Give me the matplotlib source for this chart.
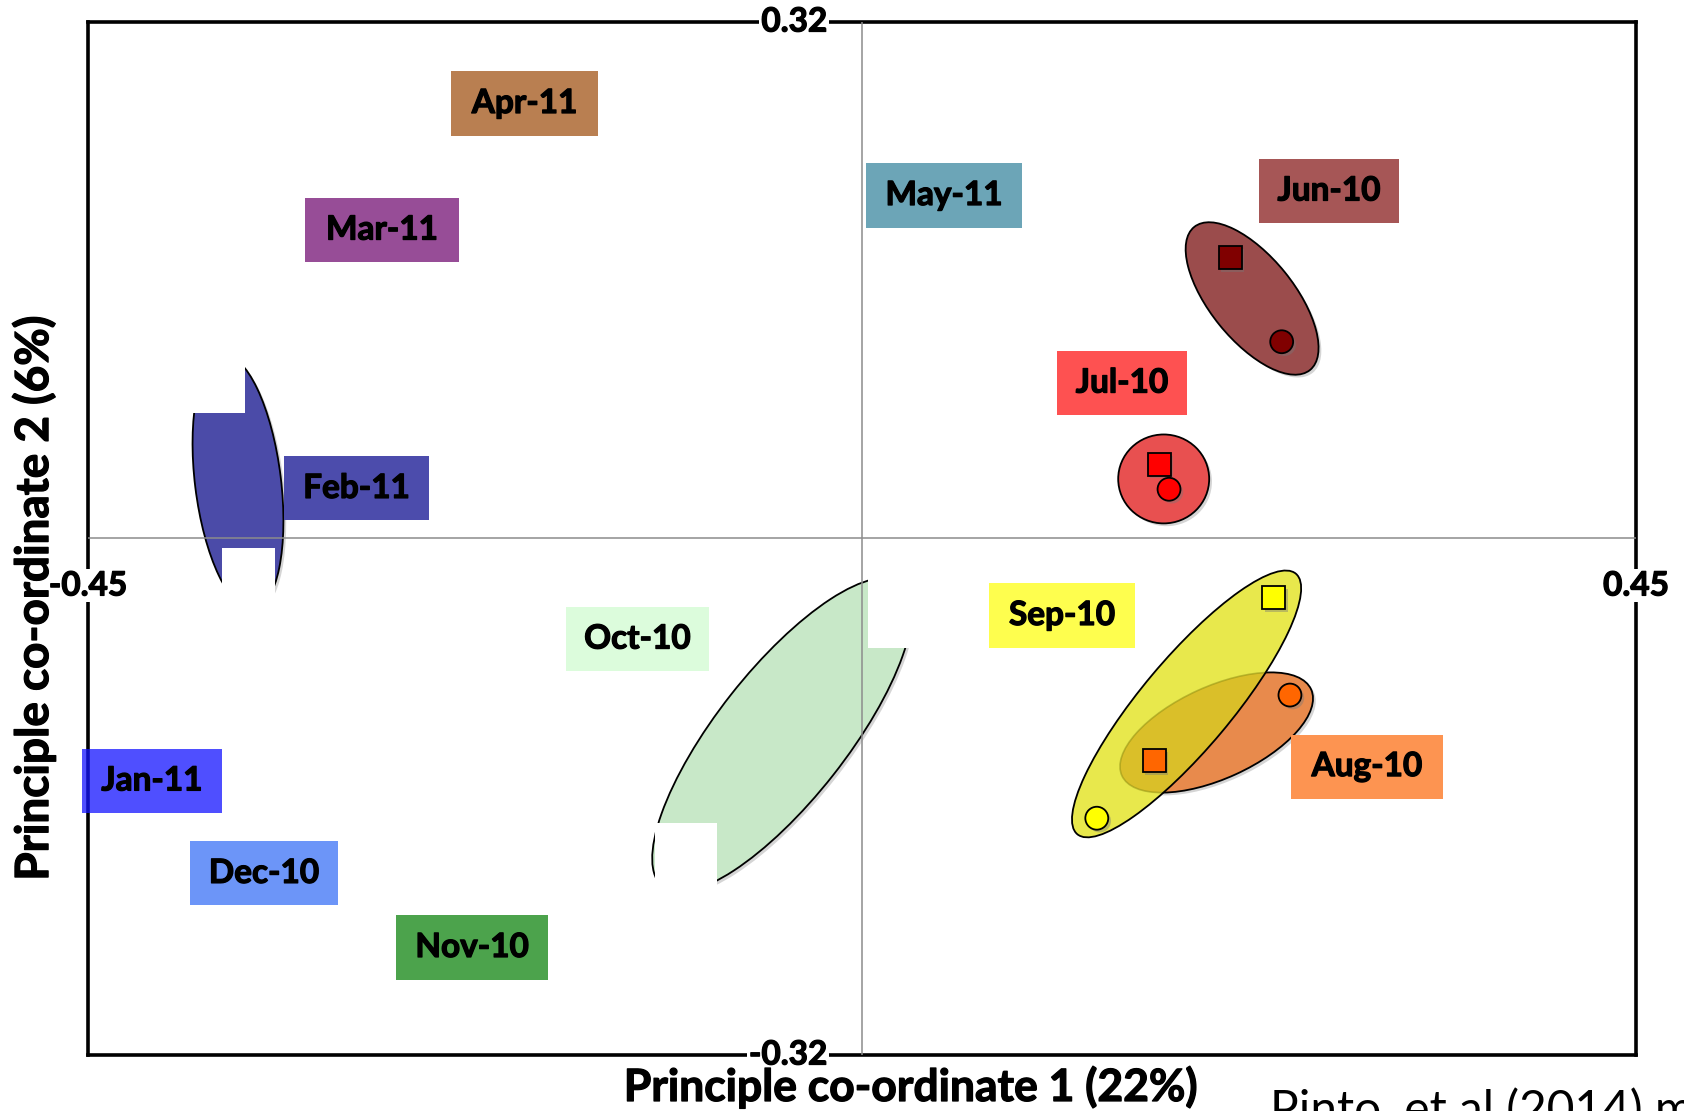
import matplotlib
matplotlib.use("Agg")
import matplotlib.pyplot as plt
from matplotlib.patches import Ellipse, Rectangle
from matplotlib.transforms import Affine2D
import matplotlib.patheffects as pe

plt.rcParams['font.family'] = ['Lato', 'DejaVu Sans']

# ---------------- data ----------------
x_range = (-0.45, 0.45)
y_range = (-0.32, 0.32)
x_tick_labels = ['-0.45', '0.45']
y_tick_labels = ['-0.32', '0.32']
x_title = 'Principle co-ordinate 1 (22%)'
y_title = 'Principle co-ordinate 2 (6%)'
credit = 'Pinto, et al (2014) mBio'

# month labels (box centre, box size in data units, colour)
label_names = ['Apr-11', 'Mar-11', 'May-11', 'Jun-10', 'Jul-10', 'Feb-11',
               'Sep-10', 'Oct-10', 'Aug-10', 'Jan-11', 'Dec-10', 'Nov-10']
label_x = [-0.1962, -0.2791, 0.0477, 0.2715, 0.1512, -0.2939,
           0.1163, -0.1305, 0.2936, -0.4128, -0.3477, -0.2267]
label_y = [0.2695, 0.1911, 0.2125, 0.2153, 0.0963, 0.0310,
           -0.0477, -0.0623, -0.1413, -0.1502, -0.2075, -0.2534]
label_w = [0.0855, 0.0895, 0.0907, 0.0814, 0.0756, 0.0843,
           0.0849, 0.0831, 0.0884, 0.0814, 0.0860, 0.0884]
label_h = 0.0397
label_colors = ['#b97f51', '#974d97', '#6ca5b7', '#a65656', '#fe5151', '#4c4cac',
                '#fefe4e', '#dcfcdc', '#fd9451', '#1414ff', '#6c95f8', '#4ca34c']
label_alpha = [1, 1, 1, 1, 1, 1, 1, 1, 1, 0.75, 1, 1]

# group ellipses (centre in data, axes lengths in x-units, angle in degrees)
ell_names = ['Feb-11', 'Oct-10', 'Jun-10', 'Jul-10', 'Aug-10', 'Sep-10']
ell_cx = [-0.3628, -0.0465, 0.2268, 0.1754, 0.2061, 0.1887]
ell_cy = [0.0350, -0.1217, 0.1487, 0.0369, -0.1202, -0.1025]
ell_w = [0.1488, 0.2244, 0.1070, 0.0529, 0.1209, 0.1977]
ell_h = [0.0500, 0.0756, 0.0488, 0.0517, 0.0535, 0.0523]
ell_angle = [97, 51.8, -51, 0, 24.5, 50]
ell_colors = ['#4b4ba8', '#c8e8c8', '#9b4c4c', '#e85050', '#e88a4c', '#e8e84c']

# sample points
pt_month = ['Jun-10', 'Jun-10', 'Jul-10', 'Jul-10', 'Aug-10', 'Aug-10', 'Sep-10', 'Sep-10']
pt_x = [0.2140, 0.2440, 0.1727, 0.1785, 0.1698, 0.2488, 0.2395, 0.1365]
pt_y = [0.1741, 0.1219, 0.0460, 0.0305, -0.1377, -0.0970, -0.0367, -0.1733]
pt_marker = ['s', 'o', 's', 'o', 's', 'o', 's', 'o']
pt_colors = ['#800000', '#800000', '#ff0000', '#ff0000', '#ff6600', '#ff6600', '#ffff00', '#ffff00']

# white patches covering parts of the picture (x0, x1, y0, y1)
mask_x0 = [-0.3960, -0.3723, 0.0035, -0.1203]
mask_x1 = [-0.3587, -0.3413, 0.0337, -0.0843]
mask_y0 = [0.0778, -0.0474, -0.0678, -0.2240]
mask_y1 = [0.1300, -0.0059, -0.0133, -0.1763]

# ---------------- figure ----------------
fig = plt.figure(figsize=(16.84, 11.11), dpi=100)
ax = fig.add_axes([0.05226, 0.05041, 0.91924, 0.92979])
ax.set_xlim(*x_range)
ax.set_ylim(*y_range)
ax.set_xticks([])
ax.set_yticks([])
for s in ax.spines.values():
    s.set_linewidth(2.6)
    s.set_color('black')
    s.set_zorder(2.8)

# isotropic transform for ellipses
ax_w_px = 0.91924 * 16.84 * 100
ax_h_px = 0.92979 * 11.11 * 100
kx = ax_w_px / (x_range[1] - x_range[0])
ky = ax_h_px / (y_range[1] - y_range[0])
iso = Affine2D().scale(1, kx / ky) + ax.transData

shadow = [pe.SimplePatchShadow(offset=(2, -2), shadow_rgbFace='#888888', alpha=0.35), pe.Normal()]
heavy = [pe.withStroke(linewidth=0.9, foreground='black')]

ell_patches = {}
for name, cx, cy, w, h, a, c in zip(ell_names, ell_cx, ell_cy, ell_w, ell_h, ell_angle, ell_colors):
    if name == 'Sep-10':
        e = Ellipse((cx, cy * ky / kx), w, h, angle=a, transform=iso,
                    facecolor=c, edgecolor='none', zorder=2.1)
    else:
        e = Ellipse((cx, cy * ky / kx), w, h, angle=a, transform=iso,
                    facecolor=c, edgecolor='black', linewidth=1.3, zorder=2,
                    path_effects=shadow)
    ax.add_patch(e)
    ell_patches[name] = e

# overlap of Aug-10 and Sep-10 groups
i_aug = ell_names.index('Aug-10')
i_sep = ell_names.index('Sep-10')
ov = Ellipse((ell_cx[i_aug], ell_cy[i_aug] * ky / kx), ell_w[i_aug], ell_h[i_aug],
             angle=ell_angle[i_aug], transform=iso, facecolor='#ce9808', alpha=0.5,
             edgecolor='#8a8a10', linewidth=1.2, zorder=2.2)
ax.add_patch(ov)
ov.set_clip_path(ell_patches['Sep-10'])
sep_edge = Ellipse((ell_cx[i_sep], ell_cy[i_sep] * ky / kx), ell_w[i_sep], ell_h[i_sep],
                   angle=ell_angle[i_sep], transform=iso, facecolor='none',
                   edgecolor='black', linewidth=1.3, zorder=2.3)
ax.add_patch(sep_edge)

# white covering patches
for x0, x1, y0, y1 in zip(mask_x0, mask_x1, mask_y0, mask_y1):
    ax.add_patch(Rectangle((x0, y0), x1 - x0, y1 - y0, facecolor='white',
                           edgecolor='none', zorder=2.5))

# centre axes
ax.axhline(0, color='#8c8c8c', linewidth=1.1, zorder=3)
ax.axvline(0, color='#8c8c8c', linewidth=1.1, zorder=3)

# month label boxes
for name, x, y, w, c, al in zip(label_names, label_x, label_y, label_w, label_colors, label_alpha):
    ax.add_patch(Rectangle((x - w / 2, y - label_h / 2), w, label_h, facecolor=c,
                           alpha=al, edgecolor='none', zorder=3.5, clip_on=False))
    ax.text(x, y, name, ha='center', va='center', fontsize=24, fontweight='bold',
            color='black', zorder=3.6, path_effects=heavy)

# points
for x, y, m, c in zip(pt_x, pt_y, pt_marker, pt_colors):
    ax.plot([x], [y], linestyle='none', marker=m, markersize=16.5, markerfacecolor=c,
            markeredgecolor='black', markeredgewidth=1.3, zorder=4,
            path_effects=[pe.SimplePatchShadow(offset=(2, -2), shadow_rgbFace='#777777', alpha=0.4), pe.Normal()])

# tick labels on the frame
tick_bbox = dict(facecolor='white', edgecolor='none', pad=1.5)
tick_kw = dict(fontsize=24, fontweight='bold', bbox=tick_bbox, zorder=6, path_effects=heavy)
ax.text(-0.0203, y_range[1], y_tick_labels[1], ha='right', va='center', **tick_kw)
ax.text(-0.0203, y_range[0], y_tick_labels[0], ha='right', va='center', **tick_kw)
ax.text(x_range[0], -0.0294, x_tick_labels[0], ha='center', va='center', **tick_kw)
ax.text(x_range[1], -0.0294, x_tick_labels[1], ha='center', va='center', **tick_kw)

# axis titles
fig.text(0.541, 0.009, x_title, ha='center', va='baseline', fontsize=32, fontweight='bold',
         path_effects=heavy)
fig.text(0.0202, 0.4617, y_title, ha='center', va='center', rotation=90, fontsize=33,
         fontweight='bold', path_effects=heavy)
fig.text(0.7542, -0.0126, credit, ha='left', va='baseline', fontsize=34.5)

fig.savefig('out.png', dpi=100)
